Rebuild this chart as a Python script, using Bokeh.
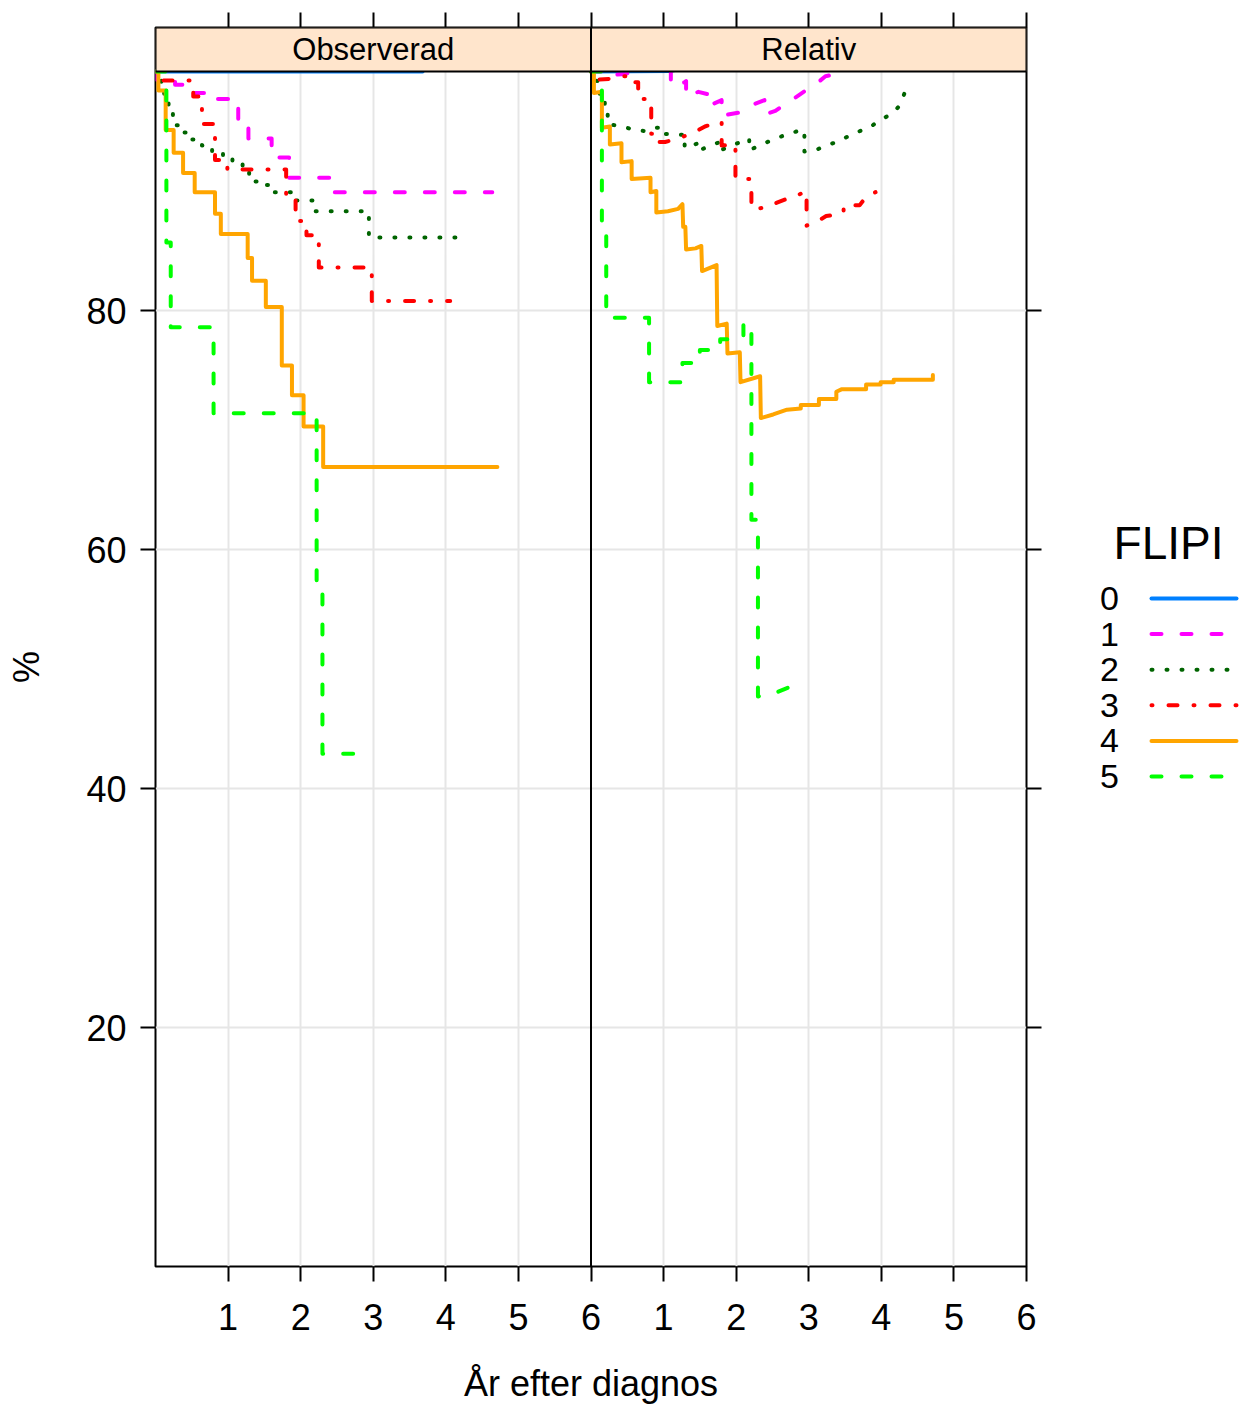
from bokeh.plotting import figure
from bokeh.models import Range1d, FixedTicker, LinearAxis, Span, Grid
from bokeh.layouts import row
from bokeh.embed import file_html
from bokeh.resources import INLINE
from bokeh.core.properties import value

FONT = "Liberation Sans"

panels = ["Observerad", "Relativ"]
groups = ["0", "1", "2", "3", "4", "5"]
colors = ["#0080ff", "#ff00ff", "#006400", "#ff0000", "#ffa500", "#00ff00"]
dashes = ["solid", "10 20", "1 14", "1 16 9 16", "solid", "10 20"]
x_ticks = [1, 2, 3, 4, 5, 6]
y_ticks = [20, 40, 60, 80]

# ---- Observerad: event times (years), survival (%) after each event, last follow-up
obs0_t = []
obs0_s = []
obs0_end = 3.68
obs1_t = [0.02, 0.27, 0.52, 0.86, 1.14, 1.28, 1.60, 1.84, 2.41]
obs1_s = [99.3, 98.9, 98.2, 97.7, 95.7, 94.4, 92.8, 91.1, 89.9]
obs1_end = 4.64
obs2_t = [0.08, 0.12, 0.18, 0.24, 0.35, 0.50, 0.64, 0.78, 0.93, 1.06, 1.20, 1.29, 1.47, 1.60, 1.90, 2.20, 2.94]
obs2_s = [99.1, 97.8, 96.7, 95.5, 94.9, 94.3, 93.8, 93.3, 92.8, 92.3, 91.7, 90.8, 90.5, 89.9, 89.2, 88.3, 86.1]
obs2_end = 4.27
obs3_t = [0.02, 0.52, 0.64, 0.82, 0.99, 1.80, 1.93, 2.08, 2.25, 2.98]
obs3_s = [99.25, 97.9, 95.6, 92.6, 91.8, 89.6, 87.5, 86.3, 83.6, 80.8]
obs3_end = 4.06
obs4_t = [0.04, 0.14, 0.25, 0.38, 0.54, 0.82, 0.90, 1.27, 1.33, 1.52, 1.74, 1.88, 2.04, 2.31]
obs4_s = [98.4, 95.1, 93.2, 91.5, 89.9, 88.1, 86.4, 84.4, 82.5, 80.3, 75.4, 72.9, 70.3, 66.9]
obs4_end = 4.71
obs5_t = [0.15, 0.21, 0.80, 2.22, 2.30]
obs5_s = [85.7, 78.6, 71.4, 57.1, 42.9]
obs5_end = 2.78

# ---- Relativ: curve vertices (years, %)
rel0_x = [0, 1.10, 1.50, 3.68]
rel0_y = [100, 100.05, 100.5, 101.0]
rel1_x = [0, 0.28, 0.28, 0.48, 0.70, 1.10, 1.10, 1.29, 1.31, 1.31, 1.48, 1.61, 1.61, 1.80, 1.80, 2.08, 2.26,
          2.39, 2.39, 2.54, 2.70, 2.81, 2.98, 3.09, 3.23, 3.39]
rel1_y = [100, 100, 99.7, 99.8, 100.3, 100.6, 98.8, 99.1, 99.2, 97.9, 98.3, 98.1, 97.1, 97.6, 96.3, 96.6, 97.3,
          97.6, 96.4, 96.7, 97.4, 97.8, 98.5, 98.9, 99.6, 99.8]
rel2_x = [0, 0.08, 0.08, 0.12, 0.12, 0.19, 0.19, 0.23, 0.23, 0.44, 0.59, 0.78, 0.90, 0.95, 0.95, 1.26, 1.29,
          1.29, 1.48, 1.53, 1.53, 1.73, 1.78, 1.78, 1.98, 2.14, 2.18, 2.18, 2.35, 2.51, 2.68, 2.84, 2.94, 2.94,
          3.09, 3.23, 3.39, 3.55, 3.70, 3.86, 3.99, 4.14, 4.26, 4.32]
rel2_y = [100, 100, 99.2, 99.2, 97.9, 97.9, 96.9, 96.9, 95.6, 95.4, 95.1, 95.0, 95.3, 95.3, 94.8, 94.7, 94.8,
          93.6, 94.0, 94.1, 93.5, 94.0, 94.1, 93.4, 93.9, 94.3, 94.4, 93.4, 93.9, 94.3, 94.7, 95.0, 95.1, 93.3,
          93.4, 93.8, 94.1, 94.6, 95.0, 95.4, 96.0, 96.4, 97.2, 98.2]
rel3_x = [0, 0.03, 0.03, 0.30, 0.45, 0.51, 0.51, 0.65, 0.65, 0.83, 0.83, 0.93, 0.93, 1.02, 1.15, 1.29, 1.45,
          1.57, 1.73, 1.80, 1.80, 1.99, 1.99, 2.21, 2.21, 2.40, 2.51, 2.68, 2.83, 2.97, 2.97, 3.10, 3.24, 3.45,
          3.48, 3.48, 3.70, 3.80, 3.92]
rel3_y = [100, 100, 99.3, 99.4, 99.6, 99.6, 99.1, 99.1, 97.7, 97.7, 94.8, 94.8, 94.1, 94.1, 94.3, 94.6, 95.0,
          95.4, 95.7, 95.8, 93.8, 93.9, 91.0, 91.0, 88.5, 88.6, 88.9, 89.3, 89.6, 90.0, 87.1, 87.4, 87.9, 88.1,
          88.2, 88.8, 88.8, 89.6, 89.9]
rel4_x = [0, 0.04, 0.04, 0.15, 0.15, 0.26, 0.26, 0.42, 0.42, 0.56, 0.56, 0.82, 0.82, 0.90, 0.90, 1.06, 1.20,
          1.26, 1.27, 1.30, 1.31, 1.44, 1.52, 1.53, 1.73, 1.74, 1.87, 1.88, 2.05, 2.06, 2.33, 2.34, 2.51, 2.70,
          2.89, 2.89, 3.14, 3.14, 3.38, 3.38, 3.45, 3.79, 3.79, 3.99, 3.99, 4.17, 4.17, 4.71, 4.71]
rel4_y = [100, 100, 98.2, 98.3, 95.3, 95.4, 93.9, 94.0, 92.4, 92.5, 91.0, 91.1, 89.9, 90.0, 88.2, 88.3, 88.5,
          88.9, 87.0, 87.0, 85.1, 85.2, 85.4, 83.3, 83.8, 78.7, 78.9, 76.4, 76.5, 74.0, 74.5, 71.0, 71.3, 71.7,
          71.8, 72.1, 72.1, 72.6, 72.6, 73.2, 73.4, 73.4, 73.8, 73.8, 74.0, 74.0, 74.2, 74.2, 74.6]
rel5_x = [0, 0.15, 0.15, 0.21, 0.21, 0.80, 0.80, 1.26, 1.26, 1.50, 1.50, 1.78, 1.78, 2.10, 2.10, 2.21, 2.21,
          2.30, 2.30, 2.44, 2.58, 2.78]
rel5_y = [100, 100, 87.0, 87.0, 79.4, 79.4, 74.0, 74.0, 75.6, 75.6, 76.7, 76.7, 77.6, 77.6, 78.9, 78.9, 62.5,
          62.5, 47.7, 47.9, 48.1, 48.6]

obs = [(obs0_t, obs0_s, obs0_end), (obs1_t, obs1_s, obs1_end), (obs2_t, obs2_s, obs2_end),
       (obs3_t, obs3_s, obs3_end), (obs4_t, obs4_s, obs4_end), (obs5_t, obs5_s, obs5_end)]
rel = [(rel0_x, rel0_y), (rel1_x, rel1_y), (rel2_x, rel2_y), (rel3_x, rel3_y), (rel4_x, rel4_y), (rel5_x, rel5_y)]


def step_path(times, surv, end):
    xs, ys = [0.0], [100.0]
    prev = 100.0
    for t, s in zip(times, surv):
        xs += [t, t]
        ys += [prev, s]
        prev = s
    xs.append(end)
    ys.append(prev)
    return xs, ys


STRIP = 44 / 11.95  # strip height in data units
XMAX = 6
LWID = 4
TOP_B, FRAME_H, BOT_B = 27, 1239, 143

p = figure(frame_width=871, frame_height=FRAME_H,
           x_range=Range1d(0, 2 * XMAX), y_range=Range1d(0, 100 + STRIP),
           x_axis_type=None, y_axis_type=None,
           min_border_left=155, min_border_right=60, min_border_top=TOP_B, min_border_bottom=BOT_B,
           output_backend="svg", toolbar_location=None,
           outline_line_color="black", outline_line_width=2,
           background_fill_color="white", border_fill_color="white", align="start")
p.extra_x_ranges = {"rel": Range1d(-XMAX, XMAX)}

all_x = x_ticks + [XMAX + t for t in x_ticks]
overrides = {XMAX + t: str(t) for t in x_ticks}


def style_axis(ax, show_labels):
    ax.major_tick_out = 15
    ax.major_tick_in = 0
    ax.minor_tick_out = 0
    ax.minor_tick_in = 0
    ax.major_tick_line_color = "black"
    ax.major_tick_line_width = 2
    ax.axis_line_color = None
    ax.major_label_text_font = FONT
    if show_labels:
        ax.major_label_text_color = "black"
        ax.major_label_text_font_size = "36px"
    else:
        # tick marks only: labels are not painted at all
        ax.major_label_text_color = None
        ax.major_label_text_font_size = "1px"
        ax.major_label_standoff = 0
    ax.axis_label_text_font = FONT
    ax.axis_label_text_font_size = "36px"
    ax.axis_label_text_font_style = "normal"
    ax.axis_label_text_color = "black"


bottom = LinearAxis(ticker=FixedTicker(ticks=all_x), major_label_overrides=overrides,
                    axis_label="År efter diagnos")
style_axis(bottom, True)
bottom.major_label_standoff = 22
bottom.axis_label_standoff = 30
top = LinearAxis(ticker=FixedTicker(ticks=all_x))
style_axis(top, False)
# trailing no-break spaces centre the rotated "%" on the panel body (below the strip)
left = LinearAxis(ticker=FixedTicker(ticks=y_ticks), axis_label="%" + "\u00a0" * 4)
style_axis(left, True)
left.major_label_standoff = 14
left.axis_label_standoff = 36
right = LinearAxis(ticker=FixedTicker(ticks=y_ticks))
style_axis(right, False)
p.add_layout(bottom, "below")
p.add_layout(top, "above")
p.add_layout(left, "left")
p.add_layout(right, "right")

gx = Grid(dimension=0, ticker=FixedTicker(ticks=[t for t in all_x if t % XMAX != 0]),
          grid_line_color="#e6e6e6", grid_line_width=2)
gy = Grid(dimension=1, ticker=FixedTicker(ticks=y_ticks), grid_line_color="#e6e6e6", grid_line_width=2)
p.add_layout(gx, "center")
p.add_layout(gy, "center")

# curves
for i in range(len(groups)):
    xs, ys = step_path(*obs[i])
    p.line(xs, ys, line_color=colors[i], line_width=LWID, line_dash=dashes[i],
           line_cap="round", line_join="round")
for i in range(len(groups)):
    rx, ry = rel[i]
    p.line(rx, ry, line_color=colors[i], line_width=LWID, line_dash=dashes[i],
           line_cap="round", line_join="round", x_range_name="rel")

# strips (drawn on top so that curves above 100 are hidden as in a clipped panel)
p.quad(left=[0, XMAX], right=[XMAX, 2 * XMAX], bottom=[100, 100], top=[100 + STRIP] * 2,
       fill_color="#ffe5cc", line_color="black", line_width=2)
p.text(x=[XMAX / 2, XMAX * 1.5], y=[100 + STRIP / 2] * 2, text=panels, text_align="center",
       text_baseline="middle", text_font=value(FONT), text_font_size="31px", text_color="black")
p.add_layout(Span(location=XMAX, dimension="height", line_color="black", line_width=2))

# legend panel (labels to the left of the line keys, as in the reference);
# its frame lines up with the main frame, so y runs in page pixels from TOP_B downwards
LW = 160
leg = figure(frame_width=LW, frame_height=FRAME_H, x_range=Range1d(0, LW),
             y_range=Range1d(TOP_B + FRAME_H, TOP_B),
             x_axis_type=None, y_axis_type=None, min_border=0, outline_line_color=None, title=None,
             output_backend="svg", toolbar_location=None, border_fill_color="white",
             background_fill_color="white", align="start")
leg.text(x=[82], y=[542], text=["FLIPI"], text_align="center", text_baseline="middle",
         text_font=value(FONT), text_font_size="46px", text_color="black")
row_y0, row_dy = 598, 35.6
for i, g in enumerate(groups):
    yy = row_y0 + i * row_dy
    leg.text(x=[23], y=[yy], text=[g], text_align="center", text_baseline="middle",
             text_font=value(FONT), text_font_size="34px", text_color="black")
    leg.line([65, 150], [yy, yy], line_color=colors[i], line_width=LWID, line_dash=dashes[i],
             line_cap="round")

layout = row(p, leg, spacing=0)
open("out.html", "w").write(file_html(layout, INLINE))
